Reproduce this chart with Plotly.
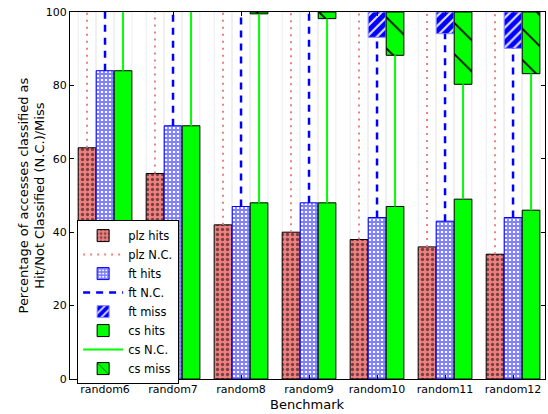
import plotly.graph_objects as go

benchmarks = ["random6", "random7", "random8", "random9", "random10", "random11", "random12"]
plz_hits = [63, 56, 42, 40, 38, 36, 34]
plz_miss = [0, 0, 0, 0, 0, 0, 0]
ft_hits = [84, 69, 47, 48, 44, 43, 44]
ft_miss = [0, 0, 0, 0, 6.9, 5.9, 9.9]
cs_hits = [84, 69, 48, 48, 47, 49, 46]
cs_miss = [0, 0, 0.5, 1.8, 11.8, 19.7, 16.8]
y_ticks = [0, 20, 40, 60, 80, 100]

W = 0.265
BW = 0.26
idx = list(range(len(benchmarks)))

fig = go.Figure()

series = [
    dict(name="plz", hits=plz_hits, miss=plz_miss, off=-W,
         hit_fill="#F08080", hit_fg="black", hit_shape=".", hit_size=5, hit_sol=0.35, hit_line="black",
         nc_color="#F08080", nc_dash="2px,5px", nc_width=2,
         miss_fill="white", miss_fg="#F08080", miss_shape="/", miss_line="#F08080", show_miss=False),
    dict(name="ft", hits=ft_hits, miss=ft_miss, off=0.0,
         hit_fill="white", hit_fg="blue", hit_shape="+", hit_size=4, hit_sol=0.7, hit_line="blue",
         nc_color="blue", nc_dash="7px,6px", nc_width=2.5,
         miss_fill="#E8E8FF", miss_fg="blue", miss_shape="/", miss_line="#8888ff", show_miss=True,
         miss_size=7, miss_sol=0.7),
    dict(name="cs", hits=cs_hits, miss=cs_miss, off=W,
         hit_fill="#00FF00", hit_fg="#00FF00", hit_shape="", hit_size=8, hit_sol=0.3, hit_line="black",
         nc_color="#00FF00", nc_dash="solid", nc_width=2,
         miss_fill="#00FF00", miss_fg="black", miss_shape="\\", miss_line="black", show_miss=True,
         miss_size=22, miss_sol=0.08),
]

for s in series:
    xs = [i + s["off"] for i in idx]
    nc_base = s["hits"]
    nc_top = [100 - m for m in s["miss"]]
    nc_len = [t - b for b, t in zip(nc_base, nc_top)]
    fig.add_trace(go.Bar(x=xs, y=nc_len, base=nc_base, width=BW, showlegend=False,
                         marker=dict(color="rgba(0,0,0,0)", line=dict(color="#ececec", width=1)),
                         hoverinfo="skip"))
    fig.add_trace(go.Bar(x=xs, y=s["hits"], base=[0] * len(xs), width=BW, name=s["name"] + " hits",
                         marker=dict(color=s["hit_fill"], line=dict(color=s["hit_line"], width=1),
                                     pattern=dict(shape=s["hit_shape"], fgcolor=s["hit_fg"], bgcolor=s["hit_fill"],
                                                  size=s["hit_size"], solidity=s["hit_sol"], fillmode="overlay"))))
    lx, ly = [], []
    for x, b, t in zip(xs, nc_base, nc_top):
        lx += [x, x, None]
        ly += [b, t, None]
    fig.add_trace(go.Scatter(x=lx, y=ly, mode="lines", name=s["name"] + " N.C.",
                             line=dict(color=s["nc_color"], dash=s["nc_dash"], width=s["nc_width"])))
    if s["show_miss"]:
        miss_vals = [m if m > 0 else None for m in s["miss"]]
        fig.add_trace(go.Bar(x=xs, y=miss_vals, base=nc_top, width=BW, name=s["name"] + " miss",
                             marker=dict(color=s["miss_fill"], line=dict(color=s["miss_line"], width=1),
                                         pattern=dict(shape=s["miss_shape"], fgcolor=s["miss_fg"],
                                                      bgcolor=s["miss_fill"], size=s["miss_size"],
                                                      solidity=s["miss_sol"], fillmode="replace"))))

font = "DejaVu Sans, sans-serif"
fig.update_layout(
    width=548, height=414,
    margin=dict(l=70, r=3, t=12, b=35, autoexpand=False),
    barmode="overlay",
    plot_bgcolor="white", paper_bgcolor="white",
    font=dict(family=font, size=11, color="black"),
    showlegend=True,
    legend=dict(x=0.015, y=0.433, xanchor="left", yanchor="top",
                bgcolor="white", bordercolor="black", borderwidth=1,
                font=dict(size=11.5), tracegroupgap=0, itemwidth=40),
    xaxis=dict(range=[-0.515, 6.47], tickmode="array", tickvals=idx, ticktext=benchmarks,
               showgrid=False, zeroline=False, showline=True, linecolor="black", linewidth=1,
               mirror="ticks", ticks="inside", ticklen=4, tickcolor="black", automargin=False,
               tickfont=dict(size=11)),
    yaxis=dict(range=[0, 100], tickmode="array", tickvals=y_ticks,
               showgrid=False, zeroline=False, showline=True, linecolor="black", linewidth=1,
               mirror="ticks", ticks="inside", ticklen=4, tickcolor="black", automargin=False,
               tickfont=dict(size=11)),
    annotations=[
        dict(text="Benchmark", x=0.5, y=0, xref="paper", yref="paper", xanchor="center", yanchor="middle",
             yshift=-25, showarrow=False, font=dict(size=13)),
        dict(text="Percentage of accesses classified as<br>Hit/Not Classified (N.C.)/Miss",
             x=0, y=0.5, xref="paper", yref="paper", xanchor="center", yanchor="middle",
             xshift=-39, textangle=-90, showarrow=False, font=dict(size=13)),
    ],
)

fig.write_html("out.html", config={"displayModeBar": False},
               post_script="document.body.style.margin='0';document.body.style.overflow='hidden';")
